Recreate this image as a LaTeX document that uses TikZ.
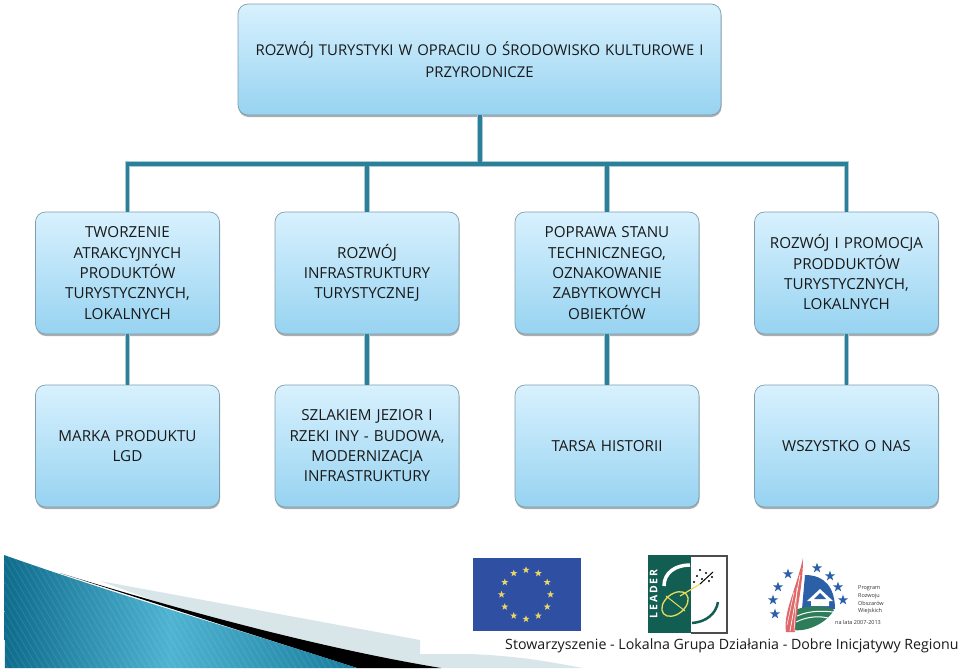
\documentclass[tikz,border=0pt]{standalone}
\usepackage{fontspec}
\setmainfont{Open Sans}
\usetikzlibrary{shadows,calc}
\definecolor{boxtop}{HTML}{D8F1FE}
\definecolor{boxbot}{HTML}{97D3F1}
\definecolor{boxline}{HTML}{7E9DAD}
\definecolor{conn}{HTML}{2B7F99}
\definecolor{connlite}{HTML}{A9CBD6}
\definecolor{swA}{HTML}{0E6C8C}
\definecolor{swB}{HTML}{4FB3D2}
\definecolor{swC}{HTML}{187C9C}
\definecolor{swlite}{HTML}{D8E6EA}
\definecolor{euflag}{HTML}{2F4FA3}
\definecolor{eustar}{HTML}{E9D667}
\definecolor{leadgreen}{HTML}{125E52}
\definecolor{leadyellow}{HTML}{E8DC5A}
\definecolor{prowblue}{HTML}{2B5FA8}
\definecolor{prowred}{HTML}{E0686A}
\definecolor{prowgreen}{HTML}{2E7D5A}
\tikzset{
  box/.style={draw=boxline,line width=0.7pt,rounded corners=10pt,top color=boxtop,bottom color=boxbot,
    align=center,anchor=center,inner sep=0pt,text=black!90,
    drop shadow={shadow xshift=0.5pt,shadow yshift=-2pt,opacity=0.45,fill=black!70}},
  wide/.style={box,minimum width=483pt,minimum height=111pt,text width=470pt,
    font=\fontsize{14.9}{22}\selectfont,execute at end node={\par\vskip 5pt}},
  small/.style={box,minimum width=184pt,minimum height=122pt,text width=176pt,
    font=\fontsize{15.2}{20.3}\selectfont,execute at end node={\par\vskip 1.5pt}},
  connbase/.style={line width=5.4pt,draw=connlite,line cap=butt,line join=miter},
  conntop/.style={line width=3.4pt,draw=conn,line cap=butt,line join=miter,shift={(0.7pt,-0.7pt)}},
  logotext/.style={inner sep=0pt,font=\fontsize{5.5}{5.5}\selectfont,text=black!80,anchor=west}
}
\begin{document}
\begin{tikzpicture}[x=1pt,y=-1pt]
\useasboundingbox (0,0) rectangle (960,670);
\fill[white] (0,0) rectangle (960,670);
\coordinate (bus) at (480,164);
\coordinate (busL) at (127,164);
\coordinate (busM) at (367,164);
\coordinate (busN) at (607,164);
\coordinate (busR) at (847,164);
% boxes
\node[wide] (root) at (479.5,59.5) {ROZWÓJ TURYSTYKI W OPRACIU O ŚRODOWISKO KULTUROWE I\\PRZYRODNICZE};
\node[small] (a1) at (127.5,273) {TWORZENIE\\ATRAKCYJNYCH\\PRODUKTÓW\\TURYSTYCZNYCH,\\LOKALNYCH};
\node[small] (a2) at (367,273) {ROZWÓJ\\INFRASTRUKTURY\\TURYSTYCZNEJ};
\node[small] (a3) at (607,273) {POPRAWA STANU\\TECHNICZNEGO,\\OZNAKOWANIE\\ZABYTKOWYCH\\OBIEKTÓW};
\node[small,execute at end node={\par\vskip 4pt}] (a4) at (846.5,273) {ROZWÓJ I PROMOCJA\\PRODDUKTÓW\\TURYSTYCZNYCH,\\LOKALNYCH};
\node[small] (b1) at (127.5,446) {MARKA PRODUKTU\\LGD};
\node[small] (b2) at (367,446) {SZLAKIEM JEZIOR I\\RZEKI INY - BUDOWA,\\MODERNIZACJA\\INFRASTRUKTURY};
\node[small] (b3) at (607,446) {TARSA HISTORII};
\node[small] (b4) at (846.5,446) {WSZYSTKO O NAS};
% connectors
\foreach \s in {connbase,conntop}{
  \draw[\s] (root.south -| bus) -- (bus);
  \draw[\s] (a1.north) -- (a1.north |- busL) -- (a4.north |- busR) -- (a4.north);
  \draw[\s] (a2.north |- busM) -- (a2.north);
  \draw[\s] (a3.north |- busN) -- (a3.north);
  \draw[\s] (a1.south) -- (b1.north);
  \draw[\s] (a2.south) -- (b2.north);
  \draw[\s] (a3.south) -- (b3.north);
  \draw[\s] (a4.south) -- (b4.north);
}
% bottom swoosh
\fill[swlite] (100,581) -- (420,640) -- (420,654) -- (470,654) .. controls (520,656) and (550,662) .. (583,668) -- (340,668) -- cycle;
\fill[black] (60,573) .. controls (180,610) and (320,648) .. (441,668) -- (357,668) -- cycle;
\begin{scope}
  \clip (4,555) .. controls (120,596) and (240,630) .. (357,668) -- (5,668) -- cycle;
  \shade[left color=swA,right color=swB] (4,550) rectangle (170,668);
  \shade[left color=swB,right color=swC] (170,550) rectangle (357,668);
  \foreach \i in {-80,-74,...,400}{
    \draw[white,opacity=0.10,line width=0.8pt] (\i,550) -- ++(70,118);
  }
\end{scope}
% EU flag
\fill[euflag] (473,558) rectangle (581,631);
\foreach \a in {0,30,...,330}{
  \path (526,594.5) ++({\a}:24.5 and 24.5) coordinate (st);
  \fill[eustar] ($(st)+(-90:3.7)$) -- ($(st)+(-54:1.5)$) -- ($(st)+(-18:3.7)$) -- ($(st)+(18:1.5)$) -- ($(st)+(54:3.7)$)
    -- ($(st)+(90:1.5)$) -- ($(st)+(126:3.7)$) -- ($(st)+(162:1.5)$) -- ($(st)+(198:3.7)$) -- ($(st)+(234:1.5)$) -- cycle;
}
% LEADER logo
\fill[white] (691,555) rectangle (728,633);
\draw[black!70,line width=1.5pt] (691,556) -- (727,556) -- (727,633) -- (691,633);
\fill[leadgreen] (648,555) rectangle (691,633);
\node[rotate=90,inner sep=0pt,text=white,font=\fontsize{10.5}{10.5}\bfseries\selectfont] (leadtxt) at (653.5,594) {\addfontfeatures{LetterSpace=16}LEADER};
\draw[white,line width=3.5pt] (690,565) .. controls (675,565) and (664,573) .. (664,586);
\draw[leadgreen,line width=2.5pt] (718,602) .. controls (716,614) and (706,622) .. (692,623);
\draw[leadyellow,line width=1.3pt,rotate around={40:(675,604)}] (675,604) ellipse (15 and 10);
\draw[leadyellow,line width=1pt] (666,596) -- (685,611);
\draw[leadyellow,line width=1.2pt] (680,596) -- (700,584);
\draw[black,line width=1pt] (700,584) -- (713,572);
\foreach \p in {(697,576),(702,579),(706,573),(709,581),(700,570),(712,577),(694,582)}{\fill[black] \p circle (1.2);}
% PROW logo
\fill[prowblue] (805,575) .. controls (825,575) and (835,588) .. (835,609) -- (802,609) -- cycle;
\fill[white] (820,589) -- (833,601) -- (829,601) -- (829,606) -- (811,606) -- (811,601) -- (807,601) -- cycle;
\fill[prowblue] (820,593) -- (826,599) -- (814,599) -- cycle;
\fill[prowgreen] (795,610) .. controls (810,604) and (830,606) .. (834,610) .. controls (825,625) and (805,632) .. (793,630) -- cycle;
\draw[white,line width=1pt] (797,616) .. controls (810,610) and (825,611) .. (833,612);
\draw[white,line width=1pt] (796,622) .. controls (808,616) and (820,616) .. (828,618);
\fill[prowred] (803,558) .. controls (803,585) and (797,605) .. (795,632) -- (786,632) .. controls (783,612) and (796,590) .. (803,558) -- cycle;
\draw[white,line width=0.7pt] (800,575) -- (790,631);
\draw[white,line width=0.5pt] (797,588) -- (794,631);
\draw[white,line width=0.5pt] (794,592) -- (787,625);
\foreach \p in {(817,568),(830,576),(838,587),(843,600),(788,574),(778,587),(773,600),(775,614)}{
  \path \p coordinate (st);
  \fill[prowblue] ($(st)+(-90:5.4)$) -- ($(st)+(-54:2.1)$) -- ($(st)+(-18:5.4)$) -- ($(st)+(18:2.1)$) -- ($(st)+(54:5.4)$)
    -- ($(st)+(90:2.1)$) -- ($(st)+(126:5.4)$) -- ($(st)+(162:2.1)$) -- ($(st)+(198:5.4)$) -- ($(st)+(234:2.1)$) -- cycle;
}
\node[logotext] (p1) at (858,588) {Program};
\node[logotext] (p2) at (858,596) {Rozwoju};
\node[logotext] (p3) at (858,603.5) {Obszarów};
\node[logotext] (p4) at (858,611) {Wiejskich};
\node[logotext] (p5) at (835,622.5) {na lata 2007-2013};
% footer
\node[inner sep=0pt,anchor=west,font=\fontsize{14.2}{16}\selectfont,text=black!90] (foot) at (505,646) {Stowarzyszenie - Lokalna Grupa Działania - Dobre Inicjatywy Regionu};
\end{tikzpicture}
\end{document}
